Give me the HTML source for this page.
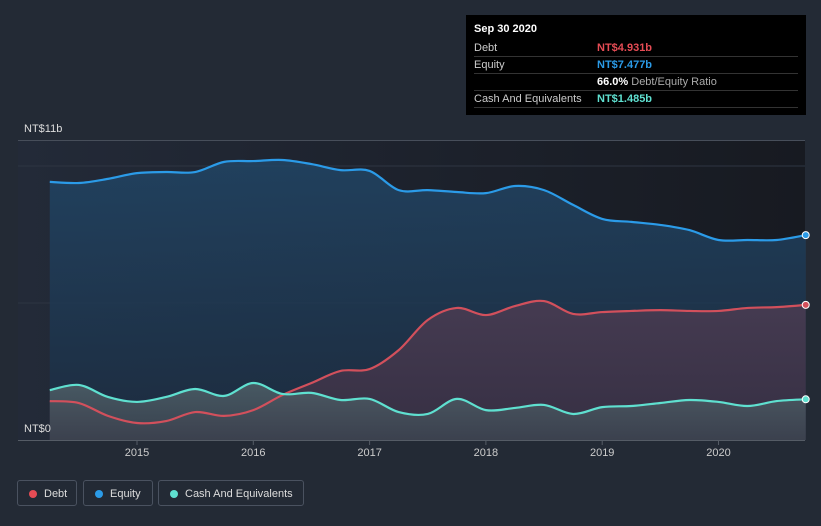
<!DOCTYPE html>
<html><head><meta charset="utf-8"><style>
body{margin:0;background:#232a35;font-family:"Liberation Sans",sans-serif;}
#wrap{position:relative;width:821px;height:526px;overflow:hidden;background:#232a35;}
.tt{position:absolute;left:466px;top:15px;width:340px;height:100px;background:#000;color:#fff;font-size:11px;}
.tt .row{position:absolute;left:8px;right:8px;height:17px;border-bottom:1px solid #333;}
.tt .l{position:absolute;left:0;top:3px;color:#ccc}
.tt .v{position:absolute;left:123px;top:3px;font-weight:bold}
.leg{position:absolute;top:480px;height:26px;border:1px solid #4a5260;border-radius:3px;color:#ddd;font-size:11px;line-height:26px;box-sizing:border-box;padding-left:26px}
.leg i{position:absolute;left:11px;top:9px;width:8px;height:8px;border-radius:50%}
</style></head><body>
<div id="wrap">
<svg id="svg" width="821" height="526" style="position:absolute;left:0;top:0">
<defs>
<linearGradient id="bg" x1="0" x2="1" y1="0" y2="0"><stop offset="0" stop-color="#232a38"/><stop offset="1" stop-color="#171a21"/></linearGradient>
<linearGradient id="eq" x1="0" x2="0" y1="0" y2="1"><stop offset="0" stop-color="#214565"/><stop offset="1" stop-color="#1c2c40"/></linearGradient>
<linearGradient id="db" x1="0" x2="0" y1="0" y2="1"><stop offset="0" stop-color="#4c3c52"/><stop offset="1" stop-color="#3a3044"/></linearGradient>
<linearGradient id="cs" x1="0" x2="0" y1="0" y2="1"><stop offset="0" stop-color="#4f6068"/><stop offset="1" stop-color="#3c4450"/></linearGradient>
</defs>
</svg>
<div class="tt">
<div class="row" style="top:5px;border:none"><span class="l" style="color:#fff;font-weight:bold">Sep 30 2020</span></div>
<div class="row" style="top:24px"><span class="l">Debt</span><span class="v" style="color:#e64c55">NT$4.931b</span></div>
<div class="row" style="top:41px"><span class="l">Equity</span><span class="v" style="color:#2b9be8">NT$7.477b</span></div>
<div class="row" style="top:58px"><span class="l"></span><span class="v" style="color:#fff">66.0% <span style="color:#aaa;font-weight:normal">Debt/Equity Ratio</span></span></div>
<div class="row" style="top:75px"><span class="l">Cash And Equivalents</span><span class="v" style="color:#5fe0d0">NT$1.485b</span></div>
</div>
<div class="leg" style="left:17px;width:60px"><i style="background:#e64c55"></i>Debt</div>
<div class="leg" style="left:83px;width:70px"><i style="background:#2b9be8"></i>Equity</div>
<div class="leg" style="left:158px;width:146px"><i style="background:#5fe0d0"></i>Cash And Equivalents</div>
</div>
<script>
const startYear=2014.25, step=0.25;
const equity=[9.42,9.38,9.53,9.74,9.78,9.78,10.15,10.18,10.22,10.07,9.85,9.82,9.12,9.12,9.05,9.01,9.27,9.12,8.58,8.07,7.96,7.85,7.66,7.30,7.30,7.30,7.477];
const debt=[1.42,1.35,0.88,0.62,0.69,1.02,0.88,1.09,1.64,2.08,2.52,2.59,3.28,4.38,4.82,4.56,4.89,5.07,4.60,4.67,4.71,4.74,4.71,4.71,4.82,4.85,4.931];
const cash=[1.82,2.01,1.57,1.39,1.57,1.86,1.61,2.08,1.68,1.72,1.46,1.50,1.02,0.95,1.50,1.09,1.17,1.28,0.95,1.20,1.24,1.35,1.46,1.39,1.24,1.42,1.485];
const xYears=[2015,2016,2017,2018,2019,2020];
const NS='http://www.w3.org/2000/svg', svg=document.getElementById('svg');
const X=t=>137+(t-2015)*116.3, Y=v=>440-v*27.4;
function el(tag,attrs,name){const e=document.createElementNS(NS,tag);for(const k in attrs)e.setAttribute(k,attrs[k]);


svg.appendChild(e);return e;}
el('rect',{x:18,y:140,width:787,height:300,fill:'url(#bg)'},'plot-bg');
[5,10].forEach(v=>el('line',{x1:18,x2:805,y1:Y(v),y2:Y(v),stroke:'#2e3542','stroke-width':1},'gridline'));
el('line',{x1:18,x2:805,y1:140.5,y2:140.5,stroke:'#474e5a','stroke-width':1},'top-line');
function pts(arr){return arr.map((v,i)=>[X(startYear+i*step),Y(v)]);}
function path(p){let d='M'+p[0][0]+','+p[0][1];for(let i=0;i<p.length-1;i++){const p0=p[i-1]||p[i],p1=p[i],p2=p[i+1],p3=p[i+2]||p2;
d+=' C'+(p1[0]+(p2[0]-p0[0])/6)+','+(p1[1]+(p2[1]-p0[1])/6)+' '+(p2[0]-(p3[0]-p1[0])/6)+','+(p2[1]-(p3[1]-p1[1])/6)+' '+p2[0]+','+p2[1];}return d;}
const paths={};
function area(arr,fill,name){const p=pts(arr),d=path(p);const l=p[p.length-1],f=p[0];paths[name]=[d,l];
el('path',{d:d+' L'+l[0]+','+Y(0)+' L'+f[0]+','+Y(0)+'Z',fill:fill,'fill-opacity':0.85},name+'-area');}
function line(col,name){const [d,l]=paths[name];
el('path',{d:d,fill:'none',stroke:col,'stroke-width':2.2},name+'-line');
el('circle',{cx:l[0],cy:l[1],r:3.5,fill:col,stroke:'#fff','stroke-width':1},name+'-end-dot');}
area(equity,'url(#eq)','equity');
area(debt,'url(#db)','debt');
area(cash,'url(#cs)','cash');
line('#2b9be8','equity');line('#d2505c','debt');line('#5fe0d0','cash');
el('line',{x1:18,x2:805,y1:440.5,y2:440.5,stroke:'#555c66','stroke-width':1},'x-axis');
xYears.forEach(y=>{el('line',{x1:X(y),x2:X(y),y1:440,y2:445,stroke:'#555c66'},'x-tick');
const t=el('text',{x:X(y),y:456,fill:'#ccc','font-size':11,'text-anchor':'middle'},'x-tick-label');t.textContent=y;});
let t=el('text',{x:24,y:132,fill:'#ddd','font-size':11},'y-max-label');t.textContent='NT$11b';
t=el('text',{x:24,y:432,fill:'#ddd','font-size':11},'y-min-label');t.textContent='NT$0';
</script>
</body></html>
